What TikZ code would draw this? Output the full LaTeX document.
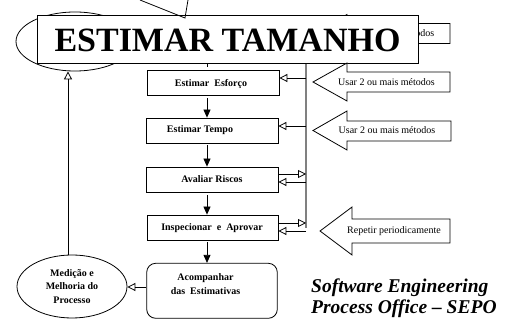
\documentclass[tikz,border=0pt]{standalone}
\usepackage{fontspec}
\setmainfont{Liberation Serif}
\usetikzlibrary{arrows.meta,shapes.geometric}
\begin{document}
\begin{tikzpicture}[x=1pt,y=-1pt,
  stepbox/.style={draw,line width=0.8pt,fill=white,minimum width=132pt,minimum height=25pt,inner sep=0pt},
  boxtext/.style={font=\fontsize{10}{13.4}\selectfont\bfseries,inner sep=0pt,align=center},
  calltext/.style={font=\fontsize{10}{12}\selectfont,inner sep=0pt},
  callout/.style={draw,line width=0.8pt,fill=white,line join=miter},
  flow/.style={line width=0.8pt,-{Triangle[length=8pt,width=7pt]}},
  feed/.style={line width=0.8pt,-{Triangle[open,length=8pt,width=8pt]}},
  bus/.style={draw=gray,line width=1.6pt},
  sepo/.style={font=\fontsize{19.5}{21}\selectfont\bfseries\itshape,inner sep=0pt,anchor=base west},
]
\useasboundingbox (0,0) rectangle (517,320);
\fill[white] (0,0) rectangle (517,320);

% ellipse behind the title box
\node[ellipse,draw,line width=0.8pt,minimum width=118pt,minimum height=59pt,inner sep=0pt] (topell) at (75,41.5) {};

% first method callout, partly under the title box
\draw[callout] (313,33.5) -- (347,14.5) -- (347,23.5) -- (450,23.5) -- (450,43.5) -- (347,43.5) -- (347,52.5) -- cycle;
\node[calltext] (c1) at (386,33.5) {Usar 2 ou mais métodos};

% title box
\node[draw,line width=1pt,fill=white,minimum width=381pt,minimum height=48pt,inner sep=0pt,
      font=\fontsize{34}{34}\selectfont\bfseries] (big) at (227.5,40) {ESTIMAR TAMANHO};

% arrow point entering from the top edge
\draw[line width=0.8pt] (140,0) -- (185,18) -- (188,0);

% process steps
\node[stepbox] (esf) at (213,82.5) {};
\node[stepbox] (tempo) at (212,130.5) {};
\node[stepbox] (riscos) at (212,179.5) {};
\node[stepbox,minimum width=131pt] (insp) at (212.5,227.5) {};
\node[stepbox,minimum width=130.6pt,minimum height=55pt,rounded corners=9pt] (acomp) at (212,290.8) {};

\node[boxtext] (tEsf) at (211,84) {Estimar\ \ Esforço};
\node[boxtext] (tTempo) at (200,130) {Estimar Tempo};
\node[boxtext] (tRiscos) at (212,179.5) {Avaliar Riscos};
\node[boxtext] (tInsp) at (212,228) {Inspecionar\ \ e\ \ Aprovar};
\node[boxtext] (tAcomp) at (205.5,284) {Acompanhar\\das\ \ Estimativas};

% improvement ellipse
\node[ellipse,draw,line width=0.8pt,minimum width=110pt,minimum height=63pt,inner sep=0pt,
      font=\fontsize{10}{13.5}\selectfont\bfseries,align=center] (med) at (72,286.5)
      {Medição e\\Melhoria do\\Processo};

% main flow
\coordinate (fx) at (207,0);
\draw[line width=0.8pt] (big.south -| fx) -- ++(0,2.5);
\draw[flow] (esf.south -| fx) ++(0,3) -- (tempo.north -| fx);
\draw[flow] (tempo.south -| fx) ++(0,2) -- (riscos.north -| fx);
\draw[flow] (riscos.south -| fx) ++(0,3) -- (insp.north -| fx);
\draw[flow] (insp.south -| fx) ++(0,2) -- (acomp.north -| fx);

% feedback to the improvement ellipse and back to the title
\coordinate (ay) at (0,287);
\draw[feed] (acomp.west |- ay) -- (med.east |- ay);
\draw[feed] ([xshift=-4pt]med.north) -- ([xshift=-4pt]med.north |- topell.south);

% method bus on the right
\coordinate (busTop) at (306,64);
\coordinate (busBot) at (306,228);
\draw[bus] (busTop) -- (busBot);

\coordinate (b1) at (306,78);
\coordinate (b2) at (306,126);
\coordinate (ro) at (306,174);
\coordinate (ri) at (306,182);
\coordinate (io) at (306,223);
\coordinate (ii) at (306,231);
\draw[feed] (b1) -- (b1 -| esf.east);
\draw[feed] (b2) -- (b2 -| tempo.east);
\draw[feed] (ro -| riscos.east) -- (ro);
\draw[feed] (ri) -- (ri -| riscos.east);
\draw[feed] (io -| insp.east) -- (io);
\draw[feed] (ii) -- (ii -| insp.east);

% remaining callouts
\draw[callout] (313,82) -- (347,63) -- (347,72) -- (450,72) -- (450,92) -- (347,92) -- (347,101) -- cycle;
\node[calltext] (c2) at (386.5,82) {Usar 2 ou mais métodos};
\draw[callout] (313,130.5) -- (347,111) -- (347,121) -- (451,121) -- (451,141) -- (347,141) -- (347,150) -- cycle;
\node[calltext] (c3) at (387,130.5) {Usar 2 ou mais métodos};
\draw[callout] (320,231) -- (352,207) -- (352,219) -- (450,219) -- (450,243) -- (352,243) -- (352,255) -- cycle;
\node[calltext] (c4) at (394,231) {Repetir periodicamente};

% office name
\node[sepo] (sepo1) at (311,292.3) {Software Engineering};
\node[sepo] (sepo2) at (311,313.3) {Process Office – SEPO};
\end{tikzpicture}
\end{document}
